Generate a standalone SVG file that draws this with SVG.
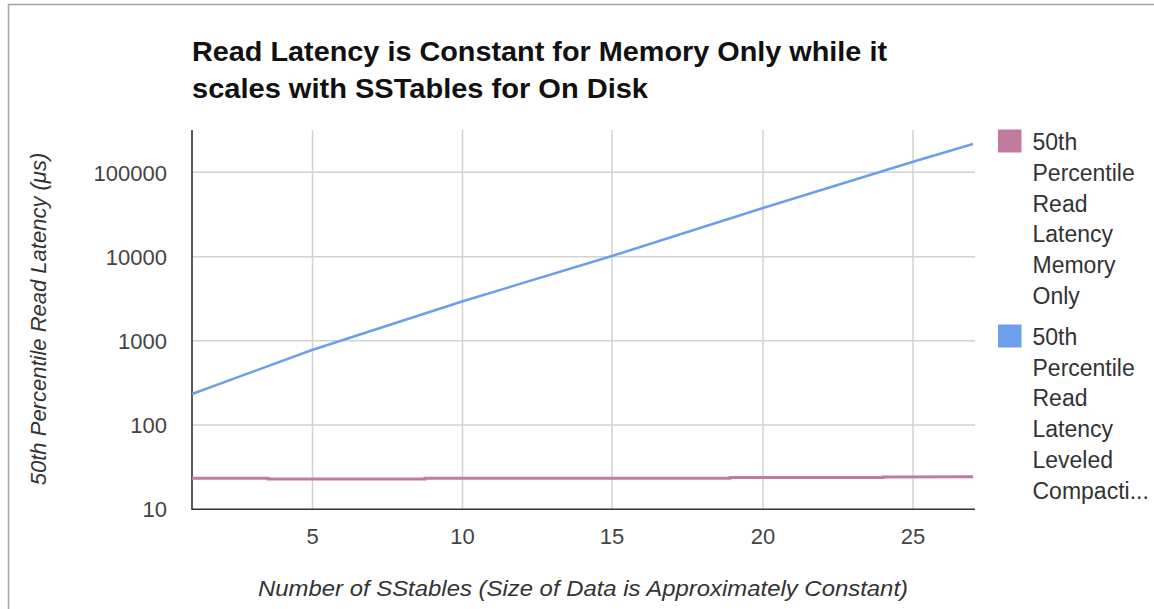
<svg xmlns="http://www.w3.org/2000/svg" width="1154" height="609" viewBox="0 0 1154 609">
<style>
  .t{font-family:"Liberation Sans",Arial,sans-serif;fill:#222}
  .title{font-size:28px;font-weight:bold;fill:#111}
  .tick{font-size:22px;fill:#444}
  .ax{font-size:22px;font-style:italic;fill:#333}
  .leg{font-size:23px;fill:#333}
  .grid{stroke:#d2d2d2;stroke-width:1.5;fill:none}
  .axis{stroke:#333;stroke-width:1.6;fill:none}
</style>
<rect x="0" y="0" width="1154" height="609" fill="#fff"/>
<g id="frame">
  <path d="M8.5 609 V4.5 H1154" fill="none" stroke="#9aa6b2" stroke-width="1.5"/>
</g>
<g id="title">
  <text class="t title" x="192" y="61" textLength="695" lengthAdjust="spacingAndGlyphs">Read Latency is Constant for Memory Only while it</text>
  <text class="t title" x="192" y="98" textLength="456" lengthAdjust="spacingAndGlyphs">scales with SSTables for On Disk</text>
</g>
<g id="grid">
  <path class="grid" d="M192 172.3H975 M192 256.7H975 M192 340.7H975 M192 425H975"/>
  <path class="grid" d="M312.5 130V509 M462.5 130V509 M612 130V509 M763 130V509 M913 130V509"/>
</g>
<g id="axes">
  <path class="axis" d="M192 130V509.3H975"/>
</g>
<g id="y-ticks">
  <text class="t tick" x="167" y="181" text-anchor="end">100000</text>
  <text class="t tick" x="167" y="265" text-anchor="end">10000</text>
  <text class="t tick" x="167" y="349" text-anchor="end">1000</text>
  <text class="t tick" x="167" y="433" text-anchor="end">100</text>
  <text class="t tick" x="167" y="517" text-anchor="end">10</text>
</g>
<g id="x-ticks">
  <text class="t tick" x="312.5" y="544" text-anchor="middle">5</text>
  <text class="t tick" x="462.5" y="544" text-anchor="middle">10</text>
  <text class="t tick" x="612" y="544" text-anchor="middle">15</text>
  <text class="t tick" x="763" y="544" text-anchor="middle">20</text>
  <text class="t tick" x="913" y="544" text-anchor="middle">25</text>
</g>
<g id="axis-titles">
  <text class="t ax" x="583" y="596" text-anchor="middle" textLength="650" lengthAdjust="spacingAndGlyphs">Number of SStables (Size of Data is Approximately Constant)</text>
  <text class="t ax" transform="translate(46 319) rotate(-90)" text-anchor="middle">50th Percentile Read Latency (μs)</text>
</g>
<g id="connectors">
  <polyline id="series-disk" points="192,394 312,350 462,301.5 612,256 763,208 913,161.7 973,144" fill="none" stroke="#6d9eeb" stroke-width="2.5" stroke-linejoin="round"/>
  <polyline id="series-memory" points="192,478.3 268,478.3 268,479 425,479 425,478.3 730,478.3 730,477.6 883,477.6 883,477 973,476.8" fill="none" stroke="#c27ba0" stroke-width="3"/>
</g>
<g id="legend-memory">
  <rect x="998" y="129.5" width="23.5" height="23" fill="#c27ba0"/>
  <text class="t leg" x="1032.5" y="150">50th</text>
  <text class="t leg" x="1032.5" y="181">Percentile</text>
  <text class="t leg" x="1032.5" y="211.5">Read</text>
  <text class="t leg" x="1032.5" y="242">Latency</text>
  <text class="t leg" x="1032.5" y="273">Memory</text>
  <text class="t leg" x="1032.5" y="304">Only</text>
</g>
<g id="legend-disk">
  <rect x="998" y="324.5" width="23.5" height="23" fill="#6d9eeb"/>
  <text class="t leg" x="1032.5" y="344.5">50th</text>
  <text class="t leg" x="1032.5" y="375.5">Percentile</text>
  <text class="t leg" x="1032.5" y="406">Read</text>
  <text class="t leg" x="1032.5" y="437">Latency</text>
  <text class="t leg" x="1032.5" y="468">Leveled</text>
  <text class="t leg" x="1032.5" y="499">Compacti...</text>
</g>
</svg>
